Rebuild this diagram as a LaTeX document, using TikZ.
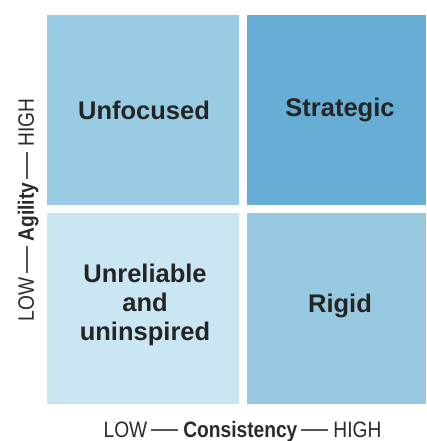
\documentclass[tikz,border=0pt]{standalone}
\usepackage{fontspec}
\setmainfont{Liberation Sans}
\begin{document}
\begin{tikzpicture}[x=1pt,y=1pt,
  qlabel/.style={text=labelgray, align=center,
    font=\fontsize{25.5}{29}\selectfont\bfseries},
  axislabel/.style={text=axisgray, inner sep=0pt,
    font=\fontsize{22.3}{24}\selectfont}]
\definecolor{cellA}{HTML}{99CBE2}
\definecolor{cellB}{HTML}{66AED6}
\definecolor{cellC}{HTML}{C9E6F2}
\definecolor{cellD}{HTML}{97C9E1}
\definecolor{labelgray}{HTML}{242424}
\definecolor{axisgray}{HTML}{2A2A2A}
\definecolor{dashgray}{HTML}{555555}
% axis words are set in a narrowed face, with a short rule between them
\newcommand{\axisdash}{\hspace{4.7pt}{\color{dashgray}\rule[6.2pt]{31.4pt}{1.4pt}}\hspace{5.8pt}}
\newcommand{\axistext}[1]{\scalebox{0.86}[1]{LOW\axisdash{\bfseries #1}\axisdash HIGH}}
\useasboundingbox (0,0) rectangle (426,441);
\clip (0,0) rectangle (426,441);
% quadrant cells
\fill[cellA] (47,236) rectangle (239,426);
\fill[cellB] (247,236) rectangle (426,426);
\fill[cellC] (47,37) rectangle (239,228);
\fill[cellD] (247,37) rectangle (426,228);
\coordinate (tl) at (144,331);
\coordinate (tr) at (340,331);
\coordinate (bl) at (145,136);
\coordinate (br) at (340,135);
% quadrant labels
\node[qlabel] (unfocused) at (tl) {Unfocused};
\node[qlabel] (strategic) at (tr) {Strategic};
\node[qlabel] (unreliable) at (bl) {Unreliable\\and\\uninspired};
\node[qlabel] (rigid) at (br) {Rigid};
% axis labels: the vertical one is turned with graphicx, its baseline on the east side
\node[axislabel, anchor=base] (consistency) at (242.5,4) {\axistext{Consistency}};
\node[axislabel, anchor=east] (agility) at (34,231)
  {\rotatebox{90}{\raisebox{0pt}[\height][0pt]{\axistext{Agility}}}};
\end{tikzpicture}
\end{document}
